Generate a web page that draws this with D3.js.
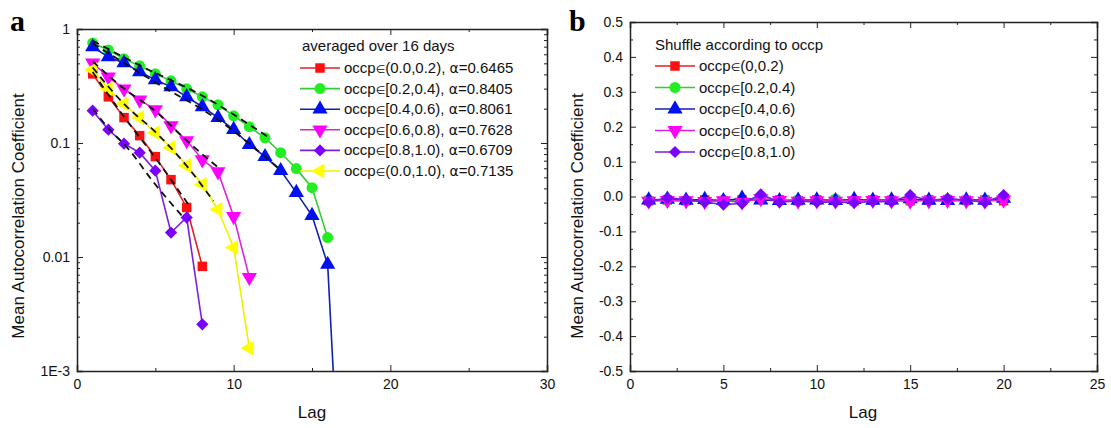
<!DOCTYPE html>
<html>
<head>
<meta charset="utf-8">
<script src="https://cdn.jsdelivr.net/npm/d3@7"></script>
<style>
  body { margin: 0; background: #fff; }
  svg { font-family: "Liberation Sans", Arial, sans-serif; }
  .axis path, .axis line { stroke: #222; }
  .axis text { font-size: 14px; fill: #111; }
</style>
</head>
<body>
<div class="chart"></div>
<script>
// ---- panel a: mean autocorrelation (log scale), lags 1..N
const lagsA = [1, 2, 3, 4, 5, 6, 7, 8, 9, 10, 11, 12, 13, 14, 15, 16, 17];
const occp00_02 = [0.404, 0.254, 0.167, 0.116, 0.0759, 0.0477, 0.0272, 0.00828];
const occp02_04 = [0.754, 0.655, 0.547, 0.475, 0.404, 0.351, 0.299, 0.254, 0.216, 0.173, 0.139, 0.111, 0.0822, 0.0596, 0.0406, 0.0148];
const occp04_06 = [0.696, 0.569, 0.504, 0.421, 0.358, 0.311, 0.254, 0.208, 0.167, 0.131, 0.0966, 0.0759, 0.0572, 0.0367, 0.0231, 0.0086, 0.00002];
const occp06_08 = [0.504, 0.380, 0.299, 0.239, 0.196, 0.142, 0.105, 0.0714, 0.0561, 0.0227, 0.00663];
const occp08_10 = [0.192, 0.131, 0.0986, 0.0822, 0.0572, 0.0164, 0.0222, 0.00257];
const occp00_10 = [0.438, 0.299, 0.221, 0.167, 0.123, 0.091, 0.0633, 0.0432, 0.0261, 0.0121, 0.00159];

// dashed fit curves, [lag, value]
const fit00_02 = [[1, 0.42], [3, 0.17], [5, 0.074], [7.1, 0.029]];
const fit02_04 = [[1, 0.79], [4, 0.48], [8, 0.26], [12.4, 0.108]];
const fit04_06 = [[1, 0.75], [5, 0.34], [9, 0.16], [13, 0.058]];
const fit06_08 = [[1, 0.52], [3, 0.30], [5, 0.19], [7, 0.105], [9.2, 0.058]];
const fit08_10 = [[1, 0.20], [2, 0.135], [3.3, 0.088], [4.9, 0.045], [6.7, 0.023]];
const fit00_10 = [[1, 0.46], [3, 0.22], [5, 0.125], [7, 0.063], [8.7, 0.031]];

const alphas = ['0.6465', '0.8405', '0.8061', '0.7628', '0.6709', '0.7135'];
const rangesA = ['(0.0,0.2)', '[0.2,0.4)', '[0.4,0.6)', '[0.6,0.8)', '[0.8,1.0)', '(0.0,1.0)'];

// ---- panel b: shuffled, lags 1..20
const lagsB = [1, 2, 3, 4, 5, 6, 7, 8, 9, 10, 11, 12, 13, 14, 15, 16, 17, 18, 19, 20];
const shuf00_02 = [-0.012, -0.010, -0.012, -0.010, -0.013, -0.010, -0.008, -0.010, -0.012, -0.010, -0.011, -0.012, -0.010, -0.011, -0.012, -0.010, -0.009, -0.011, -0.010, -0.012];
const shuf02_04 = [-0.010, -0.012, -0.011, -0.013, -0.010, -0.011, -0.009, -0.012, -0.010, -0.012, -0.007, -0.011, -0.010, -0.012, -0.011, -0.010, -0.008, -0.012, -0.010, -0.008];
const shuf04_06 = [-0.010, -0.008, -0.011, -0.009, -0.012, -0.005, -0.010, -0.012, -0.011, -0.010, -0.012, -0.009, -0.011, -0.010, -0.007, -0.011, -0.012, -0.010, -0.011, -0.005];
const shuf06_08 = [-0.013, -0.011, -0.012, -0.014, -0.012, -0.016, -0.006, -0.011, -0.013, -0.012, -0.013, -0.012, -0.011, -0.012, -0.013, -0.012, -0.011, -0.012, -0.013, -0.010];
const shuf08_10 = [-0.016, -0.004, -0.009, -0.016, -0.023, -0.020, 0.006, -0.016, -0.013, -0.016, -0.016, -0.018, -0.014, -0.015, 0.004, -0.012, -0.006, -0.010, -0.017, 0.004];
const rangesB = ['(0,0.2)', '[0.2,0.4)', '[0.4,0.6)', '[0.6,0.8)', '[0.8,1.0)'];

const yTicksA = [1, 0.1, 0.01, 0.001];
const yTickLabelsA = ['1', '0.1', '0.01', '1E-3'];
const yTicksB = [0.5, 0.4, 0.3, 0.2, 0.1, 0, -0.1, -0.2, -0.3, -0.4, -0.5];

// marker styles
const styles = {
    red:     { fill: '#ff1010', line: '#e02020', shape: d3.symbolSquare, size: 90, rot: 0 },
    green:   { fill: '#22ee22', line: '#33cc33', shape: d3.symbolCircle, size: 95, rot: 0 },
    blue:    { fill: '#0010ee', line: '#1020b0', shape: d3.symbolTriangle, size: 100, rot: 0 },
    magenta: { fill: '#ff00ff', line: '#e020e0', shape: d3.symbolTriangle, size: 100, rot: 180 },
    purple:  { fill: '#7a00ff', line: '#7a20e0', shape: d3.symbolSquare, size: 75, rot: 45 },
    yellow:  { fill: '#ffff00', line: '#f0f000', shape: d3.symbolTriangle, size: 100, rot: -90 }
};

const svg = d3.select('.chart')
    .append('svg')
        .attr('width', 1111)
        .attr('height', 428);

function drawMarkers(g, pts, st) {
    g.selectAll(null)
        .data(pts)
        .enter()
        .append('path')
            .attr('d', d3.symbol().type(st.shape).size(st.size))
            .attr('transform', d => `translate(${d[0]},${d[1]}) rotate(${st.rot})`)
            .attr('fill', st.fill);
}

function legendRow(g, x, y, st, parts) {
    g.append('line')
        .attr('x1', x).attr('x2', x + 40)
        .attr('y1', y).attr('y2', y)
        .attr('stroke', st.line).attr('stroke-width', 1.6);
    drawMarkers(g, [[x + 20, y]], st);
    const t = g.append('text')
        .attr('x', x + 44).attr('y', y + 5)
        .attr('font-size', 15).attr('fill', '#111');
    parts.forEach(p => {
        const s = t.append('tspan').text(p.t);
        if (p.sym) s.attr('font-family', 'DejaVu Sans').attr('font-size', p.small ? 11 : 14);
    });
}

// ================= panel a =================
const ax = d3.scaleLinear().domain([0, 30]).range([77, 547]);
const ay = d3.scaleLog().domain([0.001, 1]).range([371, 29]);

const ga = svg.append('g');

const minorA = [];
[0.001, 0.01, 0.1].forEach(dec => {
    for (let k = 2; k <= 9; k++) minorA.push(dec * k);
});

// axes (ticks pointing inward)
ga.append('g').attr('class', 'axis')
    .attr('transform', 'translate(0,371)')
    .call(d3.axisBottom(ax).tickValues([0, 10, 20, 30]).tickSize(-6).tickPadding(8).tickFormat(d3.format('d')));
ga.append('g').attr('class', 'axis')
    .attr('transform', 'translate(0,371)')
    .call(d3.axisBottom(ax).tickValues([5, 15, 25]).tickSize(-3).tickFormat(''))
    .call(g => g.select('.domain').remove());
ga.append('g').attr('class', 'axis')
    .attr('transform', 'translate(0,29)')
    .call(d3.axisTop(ax).tickValues([0, 10, 20, 30]).tickSize(-6).tickFormat(''));
ga.append('g').attr('class', 'axis')
    .attr('transform', 'translate(0,29)')
    .call(d3.axisTop(ax).tickValues([5, 15, 25]).tickSize(-3).tickFormat(''))
    .call(g => g.select('.domain').remove());
ga.append('g').attr('class', 'axis')
    .attr('transform', 'translate(77,0)')
    .call(d3.axisLeft(ay).tickValues(yTicksA).tickSize(-6).tickPadding(7)
        .tickFormat((d, i) => yTickLabelsA[i]));
ga.append('g').attr('class', 'axis')
    .attr('transform', 'translate(77,0)')
    .call(d3.axisLeft(ay).tickValues(minorA).tickSize(-3).tickFormat(''))
    .call(g => g.select('.domain').remove());
ga.append('g').attr('class', 'axis')
    .attr('transform', 'translate(547,0)')
    .call(d3.axisRight(ay).tickValues(yTicksA).tickSize(-6).tickFormat(''));
ga.append('g').attr('class', 'axis')
    .attr('transform', 'translate(547,0)')
    .call(d3.axisRight(ay).tickValues(minorA).tickSize(-3).tickFormat(''))
    .call(g => g.select('.domain').remove());
ga.selectAll('.axis .domain').attr('stroke-width', 1.5);

svg.append('clipPath').attr('id', 'clipA')
    .append('rect').attr('x', 77).attr('y', 29).attr('width', 470).attr('height', 342);

const seriesA = [
    { vals: occp00_02, fit: fit00_02, st: styles.red },
    { vals: occp02_04, fit: fit02_04, st: styles.green },
    { vals: occp04_06, fit: fit04_06, st: styles.blue },
    { vals: occp06_08, fit: fit06_08, st: styles.magenta },
    { vals: occp08_10, fit: fit08_10, st: styles.purple },
    { vals: occp00_10, fit: fit00_10, st: styles.yellow }
];

const plotA = ga.append('g').attr('clip-path', 'url(#clipA)');
const lineA = d3.line().x(d => ax(d[0])).y(d => ay(d[1]));
const fitLine = d3.line().x(d => ax(d[0])).y(d => ay(d[1])).curve(d3.curveMonotoneX);

seriesA.forEach(s => {
    const pts = s.vals.map((v, i) => [lagsA[i], v]);
    plotA.append('path')
        .attr('d', lineA(pts))
        .attr('fill', 'none').attr('stroke', s.st.line).attr('stroke-width', 1.6);
    drawMarkers(plotA, pts.map(p => [ax(p[0]), ay(p[1])]), s.st);
});
seriesA.forEach(s => {
    plotA.append('path')
        .attr('d', fitLine(s.fit))
        .attr('fill', 'none').attr('stroke', '#111').attr('stroke-width', 1.8)
        .attr('stroke-dasharray', '7,5');
});

// legend a
const legA = ga.append('g');
legA.append('text').attr('x', 302).attr('y', 51)
    .attr('font-size', 15).attr('fill', '#111').text('averaged over 16 days');
seriesA.forEach((s, i) => {
    legendRow(legA, 300, 68 + i * 20.6, s.st, [
        { t: 'occp' }, { t: '\u2208', sym: true, small: true }, { t: rangesA[i] + ', ' },
        { t: '\u03b1', sym: true }, { t: '=' + alphas[i] }
    ]);
});

// labels a
svg.append('text').attr('transform', 'translate(24,216) rotate(-90)')
    .attr('text-anchor', 'middle').attr('font-size', 17).attr('fill', '#111')
    .text('Mean Autocorrelation Coefficient');
svg.append('text').attr('x', 312).attr('y', 418)
    .attr('text-anchor', 'middle').attr('font-size', 17).attr('fill', '#111').text('Lag');
svg.append('text').attr('x', 10).attr('y', 31)
    .attr('font-family', '"Liberation Serif", "DejaVu Serif", serif').attr('font-weight', 'bold')
    .attr('font-size', 30).attr('fill', '#000').text('a');

// ================= panel b =================
const bx = d3.scaleLinear().domain([0, 25]).range([630, 1097]);
const by = d3.scaleLinear().domain([-0.5, 0.5]).range([371, 22]);
const gb = svg.append('g');

const minorBy = yTicksB.slice(1).map(v => v + 0.05);
const minorBx = [2.5, 7.5, 12.5, 17.5, 22.5];

gb.append('g').attr('class', 'axis')
    .attr('transform', 'translate(0,371)')
    .call(d3.axisBottom(bx).tickValues([0, 5, 10, 15, 20, 25]).tickSize(-6).tickPadding(8));
gb.append('g').attr('class', 'axis')
    .attr('transform', 'translate(0,371)')
    .call(d3.axisBottom(bx).tickValues(minorBx).tickSize(-3).tickFormat(''))
    .call(g => g.select('.domain').remove());
gb.append('g').attr('class', 'axis')
    .attr('transform', 'translate(0,22)')
    .call(d3.axisTop(bx).tickValues([0, 5, 10, 15, 20, 25]).tickSize(-6).tickFormat(''));
gb.append('g').attr('class', 'axis')
    .attr('transform', 'translate(0,22)')
    .call(d3.axisTop(bx).tickValues(minorBx).tickSize(-3).tickFormat(''))
    .call(g => g.select('.domain').remove());
gb.append('g').attr('class', 'axis')
    .attr('transform', 'translate(630,0)')
    .call(d3.axisLeft(by).tickValues(yTicksB).tickSize(-6).tickPadding(7)
        .tickFormat(d => d3.format('.1f')(d).replace('\u2212', '-')));
gb.append('g').attr('class', 'axis')
    .attr('transform', 'translate(630,0)')
    .call(d3.axisLeft(by).tickValues(minorBy).tickSize(-3).tickFormat(''))
    .call(g => g.select('.domain').remove());
gb.append('g').attr('class', 'axis')
    .attr('transform', 'translate(1097,0)')
    .call(d3.axisRight(by).tickValues(yTicksB).tickSize(-6).tickFormat(''));
gb.append('g').attr('class', 'axis')
    .attr('transform', 'translate(1097,0)')
    .call(d3.axisRight(by).tickValues(minorBy).tickSize(-3).tickFormat(''))
    .call(g => g.select('.domain').remove());
gb.selectAll('.axis .domain').attr('stroke-width', 1.5);

const seriesB = [
    { vals: shuf00_02, st: styles.red },
    { vals: shuf02_04, st: styles.green },
    { vals: shuf04_06, st: styles.blue },
    { vals: shuf06_08, st: styles.magenta },
    { vals: shuf08_10, st: styles.purple }
];
const lineB = d3.line().x(d => bx(d[0])).y(d => by(d[1]));
seriesB.forEach(s => {
    const pts = s.vals.map((v, i) => [lagsB[i], v]);
    gb.append('path')
        .attr('d', lineB(pts))
        .attr('fill', 'none').attr('stroke', s.st.line).attr('stroke-width', 1.6);
    drawMarkers(gb, pts.map(p => [bx(p[0]), by(p[1])]), s.st);
});

const legB = gb.append('g');
legB.append('text').attr('x', 655).attr('y', 50)
    .attr('font-size', 15).attr('fill', '#111').text('Shuffle according to occp');
seriesB.forEach((s, i) => {
    legendRow(legB, 655, 66 + i * 21.5, s.st, [
        { t: 'occp' }, { t: '\u2208', sym: true, small: true }, { t: rangesB[i] }
    ]);
});

svg.append('text').attr('transform', 'translate(583,216) rotate(-90)')
    .attr('text-anchor', 'middle').attr('font-size', 17).attr('fill', '#111')
    .text('Mean Autocorrelation Coefficient');
svg.append('text').attr('x', 863).attr('y', 418)
    .attr('text-anchor', 'middle').attr('font-size', 17).attr('fill', '#111').text('Lag');
svg.append('text').attr('x', 569).attr('y', 31)
    .attr('font-family', '"Liberation Serif", "DejaVu Serif", serif').attr('font-weight', 'bold')
    .attr('font-size', 30).attr('fill', '#000').text('b');
</script>
</body>
</html>
